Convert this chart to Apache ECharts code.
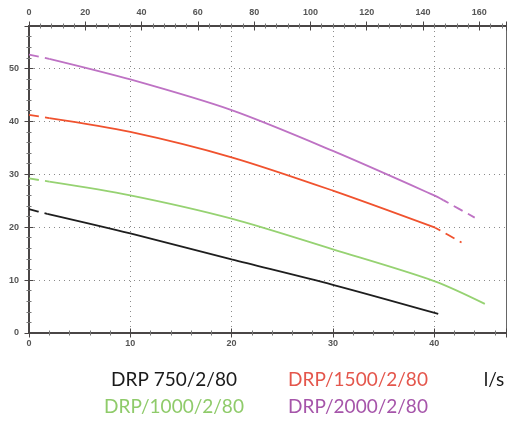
<!DOCTYPE html>
<html><head><meta charset="utf-8">
<script src="https://cdn.jsdelivr.net/npm/echarts@6/dist/echarts.min.js"></script>
<style>html,body{margin:0;padding:0;background:#fff}#c{width:507px;height:422px}</style>
</head><body><div id="c"></div>
<script>
// Flow (l/s) and head (m)
const names = ['DRP 750/2/80', 'DRP/1000/2/80', 'DRP/1500/2/80', 'DRP/2000/2/80'];
const colors = ['#1e1e1e', '#96d272', '#f0522e', '#be72c4'];
const textColors = ['#1a1a1a', '#8fcb6a', '#e4564c', '#a655aa'];

const q750  = [0, 1.8, 10, 20, 30, 40.4];
const h750  = [23.4, 22.5, 18.8, 13.9, 9.1, 3.6];
const q1000 = [0, 2, 10, 20, 30, 40, 45];
const h1000 = [29.2, 28.6, 26.0, 21.6, 15.8, 9.8, 5.5];
const q1500 = [0, 2, 10, 20, 30, 40.1, 42.7];
const h1500 = [41.2, 40.6, 38.0, 33.2, 26.9, 19.9, 17.1];
const q2000 = [0, 2, 10, 20, 30, 40, 40.9, 44];
const h2000 = [52.6, 51.8, 47.9, 42.1, 34.4, 26.0, 25.1, 21.8];
// index where solid part starts / ends (before that / after that: dashed)
const solidFrom = [1, 1, 1, 1];
const solidTo   = [5, 6, 5, 6];

const bottomTicks = { min: 0, max: 47.09, interval: 10 };
const topTicks = { min: 0, max: 169.5, interval: 20 };   // m3/h
const leftTicks = { min: 0, max: 58, interval: 10 };
const unitLabel = 'l/s';

const qs = [q750, q1000, q1500, q2000];
const hs = [h750, h1000, h1500, h2000];

const axisCol = '#4a4646';
const lblStyle = { fontSize: 9, fontWeight: 'bold', color: '#555', fontFamily: 'Liberation Sans' };
const dotted = { show: true, lineStyle: { color: '#8a8a8a', width: 1, type: [1, 4] } };

function mainAxis(pos, sc, margin, grid) {
  return Object.assign({ type: 'value', position: pos }, sc, {
    axisLine: { show: true, onZero: false, lineStyle: { color: axisCol, width: 2 } },
    axisTick: { show: true, inside: false, length: 4.5, lineStyle: { color: axisCol, width: 1 } },
    minorTick: { show: true, splitNumber: 5, length: 2.5, lineStyle: { color: '#777', width: 1 } },
    minorSplitLine: { show: false },
    axisLabel: Object.assign({ show: true, margin: margin, showMaxLabel: false }, lblStyle),
    splitLine: grid ? dotted : { show: false }
  });
}
function innerAxis(pos, sc) {
  return Object.assign({ type: 'value', position: pos }, sc, {
    axisLine: { show: false, onZero: false },
    axisTick: { show: true, inside: true, length: 4.5, lineStyle: { color: axisCol, width: 1 } },
    minorTick: { show: true, splitNumber: 5, length: 2.5, lineStyle: { color: '#777', width: 1 } },
    minorSplitLine: { show: false },
    axisLabel: { show: false },
    splitLine: { show: false }
  });
}

const series = [];
qs.forEach((q, i) => {
  const pts = q.map((x, k) => [x, hs[i][k]]);
  const a = solidFrom[i], b = solidTo[i];
  series.push({ name: names[i], type: 'line', data: pts.slice(0, a + 1), showSymbol: false, smooth: 0.3,
    lineStyle: { color: colors[i], width: 1.8, type: [10, 6] }, z: 5 });
  series.push({ name: names[i], type: 'line', data: pts.slice(a, b + 1), showSymbol: false, smooth: 0.3,
    lineStyle: { color: colors[i], width: 1.8 }, z: 5 });
  if (b < pts.length - 1) {
    series.push({ name: names[i], type: 'line', data: pts.slice(b), showSymbol: false, smooth: 0.3,
      lineStyle: { color: colors[i], width: 1.8, type: [10, 6], dashOffset: 4 }, z: 5 });
  }
});

const legendFont = { fontSize: 19, fontFamily: 'Lato' };
function label(text, x, y, fill) {
  return { type: 'text', x: x, y: y, style: Object.assign({ text: text, fill: fill, textAlign: 'center', textVerticalAlign: 'middle' }, legendFont) };
}
const graphic = [
  label(names[0], 174, 380, textColors[0]),
  label(names[1], 174, 407, textColors[1]),
  label(names[2], 358, 380, textColors[2]),
  label(names[3], 358, 407, textColors[3]),
  label(unitLabel, 494, 380, '#1a1a1a')
];

const chart = echarts.init(document.getElementById('c'), null, { renderer: 'canvas' });
chart.setOption({
  animation: false,
  backgroundColor: '#fff',
  grid: { left: 29, top: 26, width: 477, height: 307, containLabel: false, outerBoundsMode: 'none' },
  xAxis: [
    mainAxis('bottom', bottomTicks, 6, true),
    innerAxis('bottom', bottomTicks),
    mainAxis('top', topTicks, 9, false),
    innerAxis('top', topTicks)
  ],
  yAxis: [
    mainAxis('left', leftTicks, 10, true),
    innerAxis('left', leftTicks),
    { type: 'value', position: 'right', min: 0, max: 58,
      axisLine: { show: true, onZero: false, lineStyle: { color: '#666', width: 1 } },
      axisTick: { show: false }, axisLabel: { show: false }, splitLine: { show: false } }
  ],
  series: series,
  graphic: graphic
});
</script></body></html>
